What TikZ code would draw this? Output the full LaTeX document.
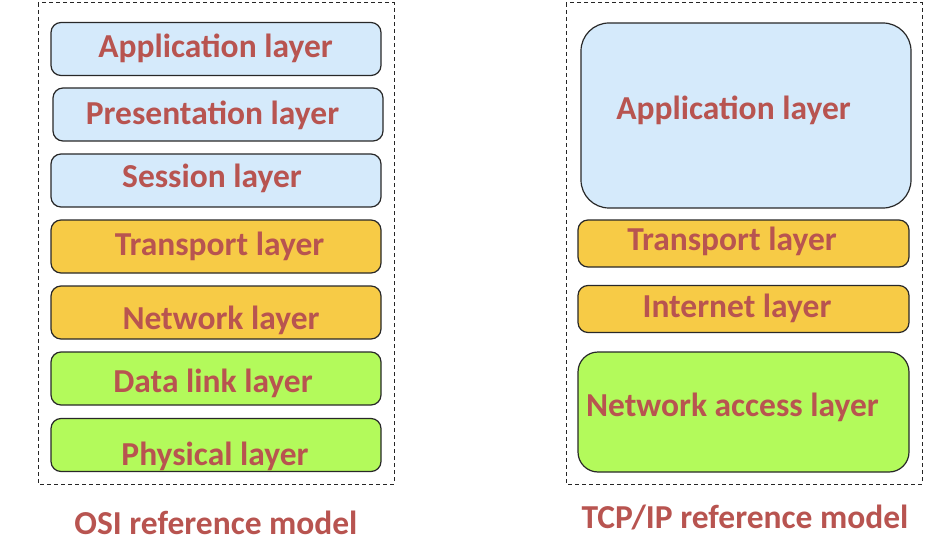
\documentclass[tikz,border=0pt]{standalone}
\usepackage{fontspec}
\setmainfont{Carlito}
\usepackage{tikz}
\definecolor{labelred}{RGB}{184,84,80}
\definecolor{upperblue}{RGB}{213,234,251}
\definecolor{midyellow}{RGB}{247,203,70}
\definecolor{lowgreen}{RGB}{179,250,91}
\definecolor{edgegray}{RGB}{40,40,40}
\tikzset{
  layerbox/.style={draw=edgegray, line width=1.2pt, rounded corners=10pt, inner sep=0pt, minimum width=330pt, minimum height=53pt},
  layertext/.style={anchor=base, inner sep=0pt, text=labelred, font=\fontsize{33.5}{40}\selectfont\bfseries},
  frame/.style={draw=black!85, line width=1pt, dash pattern=on 4pt off 3pt}
}
\newcommand{\layer}[5]{\node[layerbox, fill=#2] (#1) at (#3) {}; \node[layertext] (#1txt) at (#4) {#5};}

\begin{document}
\begin{tikzpicture}[x=1pt,y=-1pt]
        \useasboundingbox (0,0) rectangle (950,548);
        % frames
        \draw[frame] (38,3) rectangle (394,484);
        \draw[frame] (566,3) rectangle (922,484);
        % OSI
        \layer{osiapp}{upperblue}{216,49}{215.5,58}{Application layer}
        \layer{osipre}{upperblue}{218,114.5}{212.5,125}{Presentation layer}
        \layer{osises}{upperblue}{216,180.5}{212,188}{Session layer}
        \layer{ositra}{midyellow}{216,246.5}{219.5,255}{Transport layer}
        \layer{osinet}{midyellow}{216,312.5}{221,329}{Network layer}
        \layer{osidat}{lowgreen}{216,378.5}{213,392}{Data link layer}
        \layer{osiphy}{lowgreen}{216,445}{215,465}{Physical layer}
        \node[layertext] (osicap) at (216,534) {OSI reference model};
        % TCP/IP
        \node[layerbox, fill=upperblue, minimum height=185pt, rounded corners=28pt] (tcpapp) at (746,115.5) {};
        \node[layertext] (tcpapptxt) at (733.5,120) {Application layer};
        \begin{scope}[layerbox/.append style={minimum height=47pt, minimum width=331pt}]
        \layer{tcptra}{midyellow}{743.5,243.5}{732,250}{Transport layer}
        \layer{tcpint}{midyellow}{743.5,309}{737,317}{Internet layer}
        \end{scope}
        \node[layerbox, fill=lowgreen, minimum width=331pt, minimum height=120pt, rounded corners=20pt] (tcpnet) at (743.5,412) {};
        \node[layertext] (tcpnettxt) at (732.5,416) {Network access layer};
        \node[layertext] (tcpcap) at (745,528) {TCP/IP reference model};
\end{tikzpicture}
\end{document}
